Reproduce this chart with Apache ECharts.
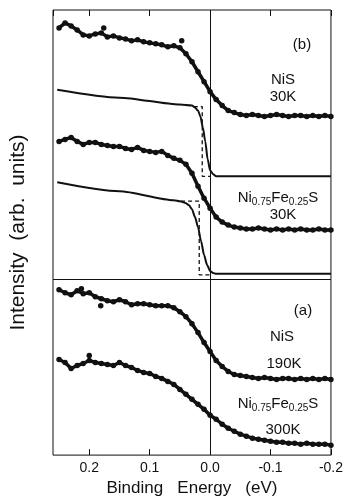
<!DOCTYPE html>
<html>
<head>
<meta charset="utf-8">
<script src="https://cdn.jsdelivr.net/npm/echarts@6/dist/echarts.min.js"></script>
<style>
html, body { margin: 0; padding: 0; background: #fff; }
#chart { width: 346px; height: 502px; }
</style>
</head>
<body>
<div id="chart"></div>
<script>
// binding energy (eV) of the measured points
var energy = [0.25, 0.24, 0.23, 0.22, 0.21, 0.20, 0.19, 0.18, 0.17, 0.16,
	0.15, 0.14, 0.13, 0.12, 0.11, 0.10, 0.09, 0.08, 0.07, 0.06,
	0.05, 0.04, 0.03, 0.02, 0.01, 0.00, -0.01, -0.02, -0.03, -0.04,
	-0.05, -0.06, -0.07, -0.08, -0.09, -0.10, -0.11, -0.12, -0.13, -0.14,
	-0.15, -0.16, -0.17, -0.18, -0.19, -0.20];

// (b) NiS 30K
var nis30 = [429, 434, 431, 427, 422, 421, 423, 424, 420, 421,
	419, 418, 416, 417, 415, 414, 413, 412, 410, 411,
	409, 403, 395, 385, 375, 365, 357, 351, 346, 344,
	342, 341, 342, 341, 340, 341, 342, 341, 340, 341,
	341, 340, 341, 340, 341, 340];
// (b) Ni0.75Fe0.25S 30K
var nife30 = [315, 317, 319, 315, 312, 314, 314, 312, 311, 310,
	310, 308, 307, 309, 306, 305, 304, 305, 301, 298,
	296, 292, 283, 270, 258, 248, 239, 234, 231, 229,
	228, 227, 227, 228, 227, 226, 227, 226, 227, 226,
	227, 226, 226, 227, 226, 226];
// (a) NiS 190K
var nis190 = [166, 163, 161, 165, 162, 163, 159, 157, 155, 154,
	156, 154, 151, 152, 152, 151, 150, 150, 150, 148,
	144, 139, 132, 123, 113, 104, 95, 89, 84, 81,
	80, 79, 78, 77, 78, 77, 76, 77, 77, 76,
	77, 76, 77, 76, 77, 76];
// (a) Ni0.75Fe0.25S 300K
var nife300 = [96, 93, 87, 90, 92, 95, 93, 92, 91, 90,
	93, 90, 88, 85, 83, 82, 79, 77, 74, 71,
	66, 61, 56, 51, 46, 40, 36, 31, 27, 24,
	21, 19, 17, 16, 15, 14, 13, 13, 12, 12,
	11, 12, 11, 11, 11, 10];

// stray points [energy, intensity]
var nis30Stray = [[0.176, 429], [0.047, 416]];
var nis190Stray = [[0.213, 167], [0.181, 150]];
var nife300Stray = [[0.200, 100]];

// broadened model curves (solid)
var fitNis30E = [0.253, 0.15, 0.05, 0.03, 0.025, 0.02, 0.016, 0.012, 0.008, 0.004, 0.0, -0.005, -0.01, -0.02, -0.2];
var fitNis30 = [367, 359, 352, 351, 349, 346, 340, 329, 315, 297, 286, 282, 280, 280, 280];
var fitNife30E = [0.253, 0.15, 0.06, 0.05, 0.04, 0.035, 0.03, 0.025, 0.02, 0.015, 0.01, 0.005, 0.0, -0.005, -0.01, -0.02, -0.2];
var fitNife30 = [274, 265, 256, 255, 253, 251, 247, 239, 229, 215, 201, 191, 185, 183, 182, 182, 182];

// unbroadened step (dashed)
var stepNis30E = [0.027, 0.013, 0.013, 0.0];
var stepNis30 = [350, 350, 280, 280];
var stepNife30E = [0.048, 0.018, 0.018, 0.0];
var stepNife30 = [255, 255, 181, 181];

// x ticks
var xMin = -0.2, xMax = 0.26, xStep = 0.1;
// panel divider level and Fermi level
var dividerLevel = 177;
var fermiLevel = 0;

var FONT = 'Liberation Sans, Arial, Helvetica, sans-serif';
var INK = '#111';

function pairs(xs, ys) {
	return xs.map(function(x, i) { return [x, ys[i]]; });
}

function dataSeries(values) {
	return {
		type: 'line',
		data: pairs(energy, values),
		symbol: 'circle',
		symbolSize: 5.5,
		showAllSymbol: true,
		itemStyle: { color: INK, opacity: 1 },
		lineStyle: { color: INK, width: 3.5 },
		z: 5
	};
}

function straySeries(pts) {
	return {
		type: 'scatter',
		data: pts,
		symbolSize: 5.5,
		itemStyle: { color: INK, opacity: 1 },
		z: 5
	};
}

function fitSeries(xs, ys) {
	return {
		type: 'line',
		data: pairs(xs, ys),
		showSymbol: false,
		smooth: 0.25,
		smoothMonotone: 'x',
		lineStyle: { color: INK, width: 2 },
		z: 4
	};
}

function stepSeries(xs, ys) {
	return {
		type: 'line',
		data: pairs(xs, ys),
		showSymbol: false,
		lineStyle: { color: INK, width: 1.3, type: [4, 3] },
		z: 3
	};
}

function label(x, y, text) {
	return {
		type: 'text',
		x: x,
		y: y,
		z: 10,
		style: {
			text: text,
			align: 'center',
			verticalAlign: 'middle',
			fill: INK,
			font: '15px ' + FONT,
			rich: {
				m: { fontSize: 15, fontFamily: FONT, color: INK, verticalAlign: 'middle' },
				s: { fontSize: 10, fontFamily: FONT, color: INK, verticalAlign: 'middle', padding: [8, 0, 0, 0] }
			}
		}
	};
}

var chemFormula = '{m|Ni}{s|0.75}{m|Fe}{s|0.25}{m|S}';

var tickLabel = function(v) {
	if (Math.abs(v * 10 - Math.round(v * 10)) > 1e-6) return '';
	return v.toFixed(1);
};

var first = dataSeries(nis30);
first.markLine = {
	silent: true,
	symbol: 'none',
	label: { show: false },
	lineStyle: { color: INK, width: 1, type: 'solid' },
	data: [{ xAxis: fermiLevel }, { yAxis: dividerLevel }]
};

var option = {
	animation: false,
	backgroundColor: '#fff',
	grid: {
		left: 50, right: 11, top: 10, bottom: 45,
		show: true, borderColor: INK, borderWidth: 1
	},
	xAxis: [{
		type: 'value',
		inverse: true,
		min: xMin, max: xMax, interval: xStep,
		position: 'bottom',
		name: 'Binding   Energy   (eV)',
		nameLocation: 'middle',
		nameGap: 22,
		nameTextStyle: { fontFamily: FONT, fontSize: 17, color: INK },
		axisLine: { show: false },
		axisTick: { inside: true, length: 6, lineStyle: { color: INK } },
		axisLabel: { formatter: tickLabel, showMaxLabel: false, margin: 6, fontFamily: FONT, fontSize: 14, color: INK },
		splitLine: { show: false }
	}, {
		type: 'value',
		inverse: true,
		min: xMin, max: xMax, interval: xStep,
		position: 'top',
		axisLine: { show: false },
		axisTick: { inside: true, length: 6, lineStyle: { color: INK } },
		axisLabel: { show: false },
		splitLine: { show: false }
	}],
	yAxis: {
		type: 'value',
		min: 0, max: 447,
		name: 'Intensity  (arb.  units)',
		nameLocation: 'middle',
		nameGap: 24,
		nameTextStyle: { fontFamily: FONT, fontSize: 21, color: INK },
		axisLine: { show: false },
		axisTick: { show: false },
		axisLabel: { show: false },
		splitLine: { show: false }
	},
	series: [
		first,
		dataSeries(nife30),
		dataSeries(nis190),
		dataSeries(nife300),
		straySeries(nis30Stray),
		straySeries(nis190Stray),
		straySeries(nife300Stray),
		fitSeries(fitNis30E, fitNis30),
		fitSeries(fitNife30E, fitNife30),
		stepSeries(stepNis30E, stepNis30),
		stepSeries(stepNife30E, stepNife30)
	],
	graphic: [
		label(302, 45, '(b)'),
		label(283, 80, 'NiS'),
		label(283, 97, '30K'),
		label(278, 198, chemFormula),
		label(283, 215, '30K'),
		label(303, 311, '(a)'),
		label(282, 337, 'NiS'),
		label(284, 364, '190K'),
		label(278, 404, chemFormula),
		label(283, 430, '300K')
	]
};

var chart = echarts.init(document.getElementById('chart'));
chart.setOption(option);
</script>
</body>
</html>
